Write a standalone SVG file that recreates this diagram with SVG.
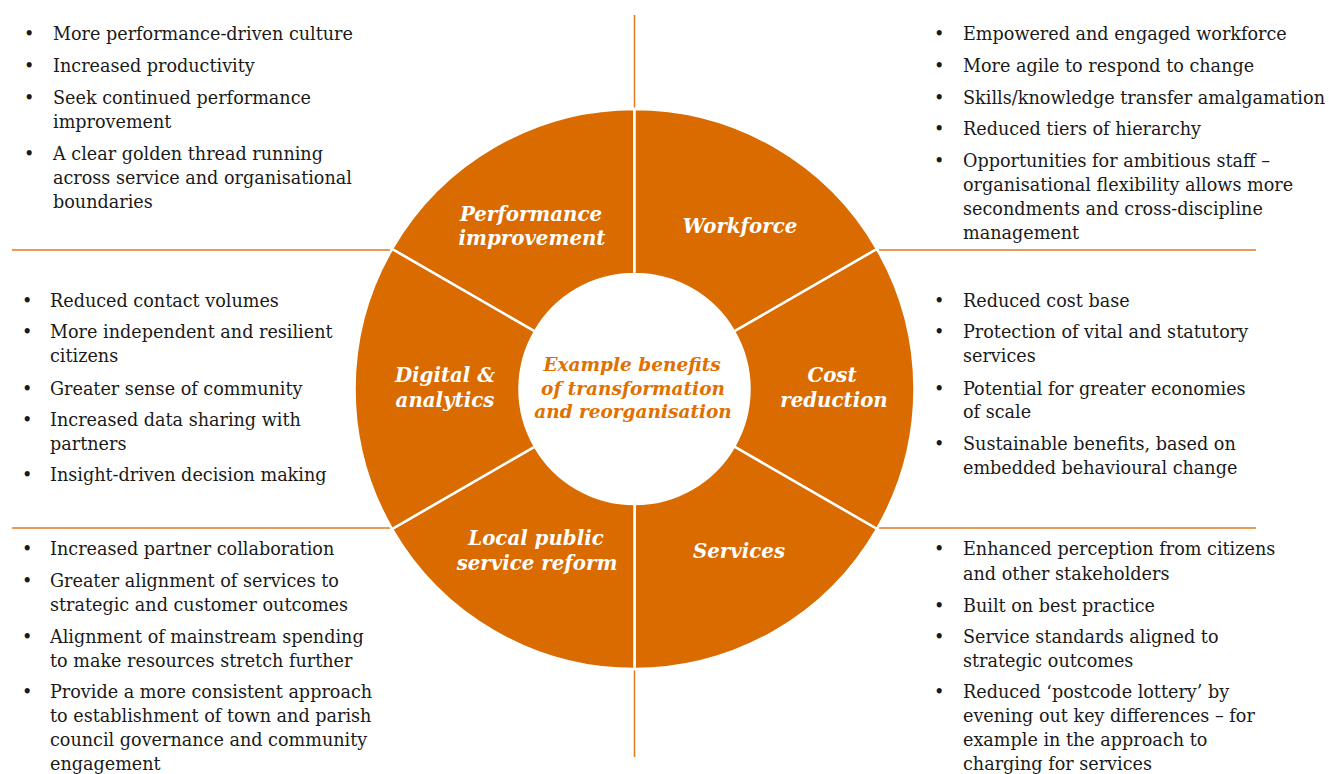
<svg xmlns="http://www.w3.org/2000/svg" width="1329" height="774" viewBox="0 0 1329 774">
<style>
.bg{fill:#ffffff}
.seg{fill:#D96B00;stroke:#ffffff;stroke-width:2.5}
.rule{stroke:#E07A20;stroke-width:1.5;fill:none}
.txt{font-family:"DejaVu Serif","Liberation Serif",serif;font-size:17.6px;fill:#1a1a1a}
.lbl{font-family:"DejaVu Serif","Liberation Serif",serif;font-size:19.8px;font-weight:bold;font-style:italic;fill:#ffffff;text-anchor:middle}
.ctr{font-family:"DejaVu Serif","Liberation Serif",serif;font-size:18.5px;font-weight:bold;font-style:italic;fill:#E07000;text-anchor:middle}
</style>
<rect class="bg" x="0" y="0" width="1329" height="774"/>
<g id="connectors">
<line class="rule" x1="634.5" y1="15" x2="634.5" y2="110"/>
<line class="rule" x1="634.5" y1="668" x2="634.5" y2="757"/>
<line class="rule" x1="12" y1="250" x2="392" y2="250"/>
<line class="rule" x1="877" y1="250" x2="1256" y2="250"/>
<line class="rule" x1="12" y1="528" x2="392" y2="528"/>
<line class="rule" x1="877" y1="528" x2="1256" y2="528"/>
</g>
<g id="seg-performance">
<path class="seg" d="M392.01,249 A280,280 0 0 1 634.5,109 L634.5,274 A115,115 0 0 0 534.91,331.5 Z"/>
<text class="lbl"><tspan x="531" y="221">Performance</tspan><tspan x="532" y="245">improvement</tspan></text>
</g>
<g id="seg-workforce">
<path class="seg" d="M634.5,109 A280,280 0 0 1 876.99,249 L734.09,331.5 A115,115 0 0 0 634.5,274 Z"/>
<text class="lbl" x="740" y="233">Workforce</text>
</g>
<g id="seg-cost">
<path class="seg" d="M876.99,249 A280,280 0 0 1 876.99,529 L734.09,446.5 A115,115 0 0 0 734.09,331.5 Z"/>
<text class="lbl"><tspan x="832" y="382">Cost</tspan><tspan x="834" y="407">reduction</tspan></text>
</g>
<g id="seg-services">
<path class="seg" d="M876.99,529 A280,280 0 0 1 634.5,669 L634.5,504 A115,115 0 0 0 734.09,446.5 Z"/>
<text class="lbl" x="739" y="558">Services</text>
</g>
<g id="seg-local">
<path class="seg" d="M634.5,669 A280,280 0 0 1 392.01,529 L534.91,446.5 A115,115 0 0 0 634.5,504 Z"/>
<text class="lbl"><tspan x="536" y="545">Local public</tspan><tspan x="537" y="570">service reform</tspan></text>
</g>
<g id="seg-digital">
<path class="seg" d="M392.01,529 A280,280 0 0 1 392.01,249 L534.91,331.5 A115,115 0 0 0 534.91,446.5 Z"/>
<text class="lbl"><tspan x="445" y="382">Digital &amp;</tspan><tspan x="445" y="407">analytics</tspan></text>
</g>
<g id="center">
<circle cx="634.5" cy="389" r="114" fill="#ffffff"/>
<text class="ctr"><tspan x="632" y="371">Example benefits</tspan><tspan x="633" y="395">of transformation</tspan><tspan x="633" y="418">and reorganisation</tspan></text>
</g>
<g id="list-performance" class="txt">
<text x="24" y="40">•</text><text x="53" y="40">More performance-driven culture</text>
<text x="24" y="72">•</text><text x="53" y="72">Increased productivity</text>
<text x="24" y="104">•</text><text x="53" y="104">Seek continued performance</text>
<text x="53" y="128">improvement</text>
<text x="24" y="160">•</text><text x="53" y="160">A clear golden thread running</text>
<text x="53" y="184">across service and organisational</text>
<text x="53" y="208">boundaries</text>
</g>
<g id="list-workforce" class="txt">
<text x="934" y="40">•</text><text x="963" y="40">Empowered and engaged workforce</text>
<text x="934" y="72">•</text><text x="963" y="72">More agile to respond to change</text>
<text x="934" y="104">•</text><text x="963" y="104" textLength="362" lengthAdjust="spacingAndGlyphs">Skills/knowledge transfer amalgamation</text>
<text x="934" y="135">•</text><text x="963" y="135">Reduced tiers of hierarchy</text>
<text x="934" y="167">•</text><text x="963" y="167">Opportunities for ambitious staff –</text>
<text x="963" y="191">organisational flexibility allows more</text>
<text x="963" y="215">secondments and cross-discipline</text>
<text x="963" y="239">management</text>
</g>
<g id="list-digital" class="txt">
<text x="22" y="307">•</text><text x="50" y="307">Reduced contact volumes</text>
<text x="22" y="338">•</text><text x="50" y="338">More independent and resilient</text>
<text x="50" y="362">citizens</text>
<text x="22" y="395">•</text><text x="50" y="395">Greater sense of community</text>
<text x="22" y="426">•</text><text x="50" y="426">Increased data sharing with</text>
<text x="50" y="450">partners</text>
<text x="22" y="481">•</text><text x="50" y="481">Insight-driven decision making</text>
</g>
<g id="list-cost" class="txt">
<text x="934" y="307">•</text><text x="963" y="307">Reduced cost base</text>
<text x="934" y="338">•</text><text x="963" y="338">Protection of vital and statutory</text>
<text x="963" y="362">services</text>
<text x="934" y="395">•</text><text x="963" y="395">Potential for greater economies</text>
<text x="963" y="418">of scale</text>
<text x="934" y="450">•</text><text x="963" y="450">Sustainable benefits, based on</text>
<text x="963" y="474">embedded behavioural change</text>
</g>
<g id="list-local" class="txt">
<text x="22" y="555">•</text><text x="50" y="555">Increased partner collaboration</text>
<text x="22" y="587">•</text><text x="50" y="587">Greater alignment of services to</text>
<text x="50" y="611">strategic and customer outcomes</text>
<text x="22" y="643">•</text><text x="50" y="643">Alignment of mainstream spending</text>
<text x="50" y="667">to make resources stretch further</text>
<text x="22" y="698">•</text><text x="50" y="698">Provide a more consistent approach</text>
<text x="50" y="722">to establishment of town and parish</text>
<text x="50" y="746">council governance and community</text>
<text x="50" y="770">engagement</text>
</g>
<g id="list-services" class="txt">
<text x="934" y="555">•</text><text x="963" y="555">Enhanced perception from citizens</text>
<text x="963" y="580">and other stakeholders</text>
<text x="934" y="612">•</text><text x="963" y="612">Built on best practice</text>
<text x="934" y="643">•</text><text x="963" y="643">Service standards aligned to</text>
<text x="963" y="667">strategic outcomes</text>
<text x="934" y="698">•</text><text x="963" y="698">Reduced ‘postcode lottery’ by</text>
<text x="963" y="722">evening out key differences – for</text>
<text x="963" y="746">example in the approach to</text>
<text x="963" y="770">charging for services</text>
</g>
</svg>
